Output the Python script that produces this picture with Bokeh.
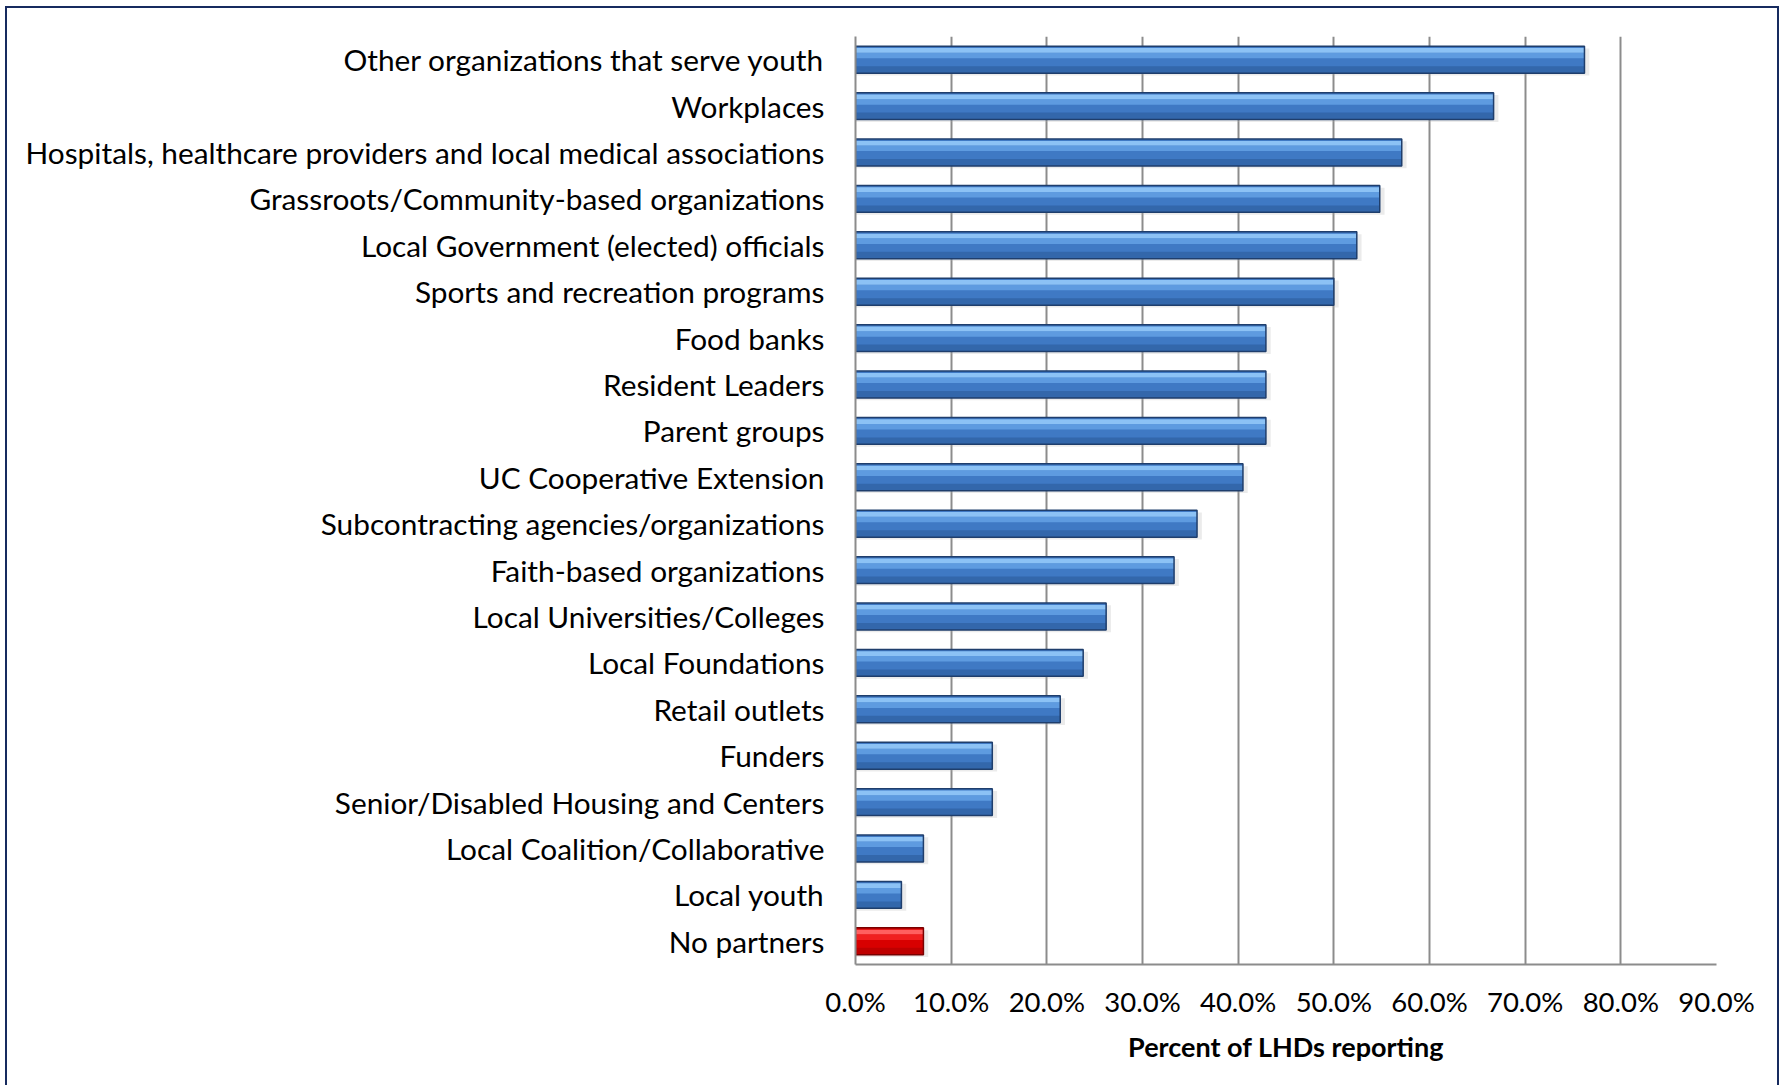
from bokeh.plotting import figure
from bokeh.models import ColumnDataSource, FixedTicker, PrintfTickFormatter
from bokeh.transform import dodge
from bokeh.embed import file_html
from bokeh.resources import INLINE

# ---- data ----
categories = [
    "Other organizations that serve youth",
    "Workplaces",
    "Hospitals, healthcare providers and local medical associations",
    "Grassroots/Community-based organizations",
    "Local Government (elected) officials",
    "Sports and recreation programs",
    "Food banks",
    "Resident Leaders",
    "Parent groups",
    "UC Cooperative Extension",
    "Subcontracting agencies/organizations",
    "Faith-based organizations",
    "Local Universities/Colleges",
    "Local Foundations",
    "Retail outlets",
    "Funders",
    "Senior/Disabled Housing and Centers",
    "Local Coalition/Collaborative",
    "Local youth",
    "No partners",
]
percent = [76.2, 66.7, 57.1, 54.8, 52.4, 50.0, 42.9, 42.9, 42.9, 40.5,
           35.7, 33.3, 26.2, 23.8, 21.4, 14.3, 14.3, 7.1, 4.8, 7.1]
highlighted = ["No partners"]
tick_values = [0, 10, 20, 30, 40, 50, 60, 70, 80, 90]
x_title = "Percent of LHDs reporting"

# ---- styling palettes (blue / red) ----
pal = {
    "blue": dict(top="#8CC2F5", upper="#5E9BE0", mid="#3F79C4", low="#3367AB",
                 line="#1F3E6C"),
    "red": dict(top="#FF6060", upper="#F02020", mid="#D80000", low="#BE0000",
                line="#7A0000"),
}
kind = ["red" if c in highlighted else "blue" for c in categories]

src = ColumnDataSource(dict(
    cat=categories,
    val=percent,
    shadow_right=[v + 0.5 for v in percent],
    c_top=[pal[k]["top"] for k in kind],
    c_upper=[pal[k]["upper"] for k in kind],
    c_mid=[pal[k]["mid"] for k in kind],
    c_low=[pal[k]["low"] for k in kind],
    c_line=[pal[k]["line"] for k in kind],
))

W, H = 1774, 1079
p = figure(
    y_range=list(reversed(categories)),
    x_range=(0, 90),
    width=W, height=H,
    output_backend="svg",
    toolbar_location=None,
    min_border_left=848, min_border_right=65,
    min_border_top=28, min_border_bottom=123,
)
p.styles = {"margin-left": "5px", "margin-top": "6px",
            "border-left": "2px solid #172B5F",
            "border-top": "2px solid #172B5F",
            "border-right": "2px solid #172B5F"}
p.y_range.range_padding = 0
p.outline_line_color = None
p.background_fill_color = "white"
p.border_fill_color = "white"

H_BAR = 0.58
# shadow
p.hbar(y=dodge("cat", -0.05, range=p.y_range), left=0, right="shadow_right",
       height=H_BAR, source=src, fill_color="#B0B0B0", fill_alpha=0.25,
       line_color=None)
# body
p.hbar(y="cat", left=0, right="val", height=H_BAR, source=src,
       fill_color="c_mid", line_color=None)
# lower darker part
p.hbar(y=dodge("cat", -0.215, range=p.y_range), left=0, right="val",
       height=0.15, source=src, fill_color="c_low", line_color=None)
# upper lighter bands
p.hbar(y=dodge("cat", 0.09, range=p.y_range), left=0, right="val",
       height=0.12, source=src, fill_color="c_upper", line_color=None)
p.hbar(y=dodge("cat", 0.2, range=p.y_range), left=0, right="val",
       height=0.1, source=src, fill_color="c_top", line_color=None)
# outline
p.hbar(y="cat", left=0, right="val", height=H_BAR, source=src,
       fill_color=None, line_color="c_line", line_width=1.5)

# axes
xa = p.xaxis[0]
xa.ticker = FixedTicker(ticks=tick_values)
xa.formatter = PrintfTickFormatter(format="%.1f%%")
xa.axis_label = x_title
xa.axis_label_text_font = "Lato"
xa.axis_label_text_font_style = "bold"
xa.axis_label_text_font_size = "27px"
xa.axis_label_text_color = "black"
xa.axis_label_standoff = 9
xa.major_label_text_font = "Lato"
xa.major_label_text_font_size = "27.5px"
xa.major_label_text_color = "black"
xa.major_label_standoff = 14
xa.major_tick_line_color = None
xa.minor_tick_line_color = None
xa.axis_line_color = "#8C8C8C"
xa.axis_line_width = 2

ya = p.yaxis[0]
ya.major_label_text_font = "Lato"
ya.major_label_text_font_size = "29.8px"
ya.major_label_text_color = "black"
ya.major_label_standoff = 25
ya.major_tick_line_color = None
ya.minor_tick_line_color = None
ya.axis_line_color = "#8C8C8C"
ya.axis_line_width = 2

p.xgrid.grid_line_color = "#8C8C8C"
p.xgrid.grid_line_width = 2
p.ygrid.grid_line_color = None

open("out.html", "w").write(file_html(p, INLINE))
